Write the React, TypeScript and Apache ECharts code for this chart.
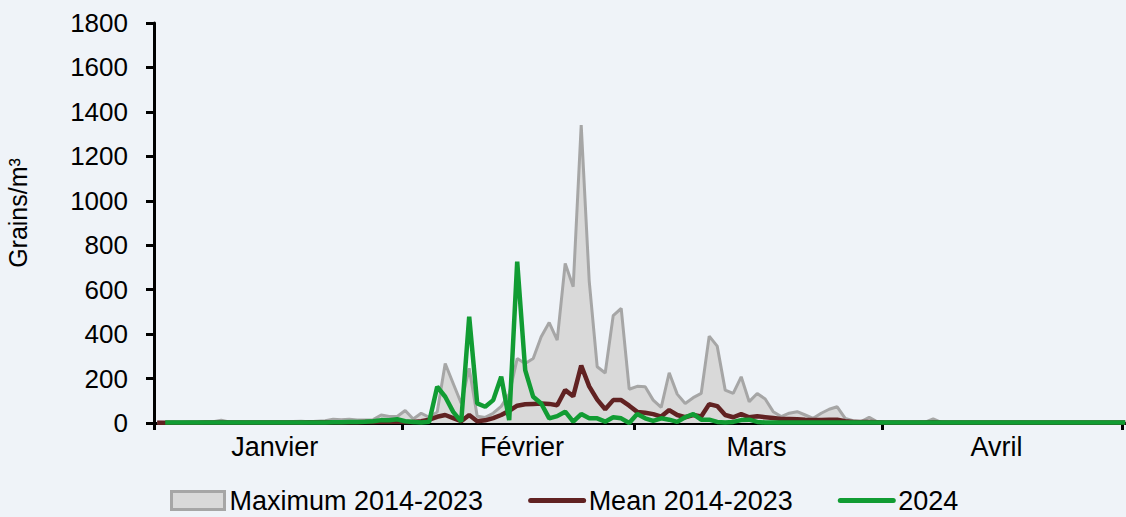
import React, { useEffect, useRef } from "react";
import * as echarts from "echarts";

// Daily values, 1 Jan (index 0) .. 1 May (index 121)
const MAX_2014_2023: number[] = [
  3, 2, 3, 2, 4, 5, 4, 6, 12, 5,
  4, 3, 4, 5, 4, 6, 5, 7, 8, 6,
  8, 10, 17, 15, 17, 14, 13, 15, 36, 29,
  29, 56, 18, 44, 25, 50, 268, 178, 89, 246,
  30, 25, 44, 75, 130, 290, 268, 290, 388, 452,
  373, 718, 613, 1341, 640, 253, 225, 483, 516, 152,
  165, 163, 103, 70, 226, 130, 88, 114, 133, 391,
  346, 148, 133, 208, 96, 133, 108, 51, 29, 44,
  51, 36, 21, 44, 62, 73, 21, 10, 6, 26,
  5, 3, 4, 3, 2, 3, 4, 18, 3, 2,
  3, 2, 3, 2, 2, 3, 2, 2, 3, 2,
  2, 2, 2, 3, 2, 2, 2, 2, 2, 2,
  2, 2,
];

const MEAN_2014_2023: number[] = [
  1, 1, 1, 1, 1, 1, 2, 2, 2, 2,
  2, 2, 2, 2, 2, 2, 2, 2, 2, 3,
  3, 3, 3, 3, 3, 3, 4, 4, 6, 6,
  7, 5, 5, 8, 15, 28, 36, 22, 8, 36,
  8, 12, 22, 36, 55, 78, 84, 86, 88, 86,
  80, 148, 120, 258, 165, 105, 62, 103, 103, 78,
  50, 46, 40, 29, 58, 36, 26, 36, 29, 85,
  76, 36, 26, 40, 26, 30, 26, 22, 18, 18,
  17, 15, 14, 14, 15, 15, 8, 5, 4, 4,
  3, 2, 2, 2, 2, 2, 2, 3, 2, 2,
  2, 2, 2, 2, 2, 2, 2, 2, 2, 2,
  2, 2, 2, 2, 2, 2, 2, 2, 2, 2,
  2, 2,
];

const Y2024: (number | null)[] = [
  null, 2, 2, 2, 2, 2, 2, 2, 2, 2,
  2, 2, 2, 2, 2, 2, 2, 2, 2, 2,
  2, 2, 3, 3, 4, 5, 6, 8, 13, 12,
  17, 8, 5, 2, 6, 163, 118, 50, 6, 478,
  88, 73, 103, 208, 13, 726, 238, 118, 88, 21,
  31, 51, 6, 40, 21, 21, 6, 26, 21, 0,
  40, 21, 10, 21, 15, 5, 26, 40, 15, 15,
  5, 2, 5, 13, 15, 5, 2, 2, 2, 2,
  2, 2, 2, 2, 2, 2, 2, 2, 2, 2,
  2, 2, 2, 2, 2, 2, 2, 2, 2, 2,
  2, 2, 2, 2, 2, 2, 2, 2, 2, 2,
  2, 2, 2, 2, 2, 2, 2, 2, 2, 2,
  2, 2,
];

const MONTHS: string[] = ["Janvier", "Février", "Mars", "Avril"];
const MONTH_BOUNDS: number[] = [0, 31, 60, 91, 121];
const MONTH_LABEL_POS: number[] = [15.1, 46, 75.3, 105.3];

const SERIES_NAMES = ["Maximum 2014-2023", "Mean 2014-2023", "2024"];
const COLORS = { maxLine: "#A6A6A6", maxFill: "#D9D9D9", mean: "#612222", y2024: "#119C33" };

const FONT = "'Liberation Sans', Arial, sans-serif";
const DAY_OFFSET = 0.4;

const toXY = (arr: (number | null)[]) =>
  arr.map((v, i) => [i + DAY_OFFSET, v === null ? "-" : v]);

export default function App() {
  const ref = useRef<HTMLDivElement>(null);

  useEffect(() => {
    if (!ref.current) return;
    const chart = echarts.init(ref.current, undefined, { renderer: "svg" });
    const option: any = {
      animation: false,
      backgroundColor: "#EFF3F8",
      textStyle: { fontFamily: FONT },
      grid: {
        left: 154,
        right: 0,
        top: 23,
        bottom: 94,
        containLabel: false,
        outerBoundsMode: "none",
      },
      xAxis: {
        type: "value",
        min: 0,
        max: 121.5,
        axisLine: { show: true, onZero: false, lineStyle: { color: "#000", width: 3 } },
        axisTick: {
          show: true,
          customValues: MONTH_BOUNDS,
          length: 7,
          lineStyle: { color: "#000", width: 3 },
        },
        axisLabel: {
          customValues: MONTH_LABEL_POS,
          formatter: (v: number) => {
            let best = 0;
            MONTH_LABEL_POS.forEach((p, k) => {
              if (Math.abs(p - v) < Math.abs(MONTH_LABEL_POS[best] - v)) best = k;
            });
            return MONTHS[best];
          },
          fontSize: 27,
          color: "#000",
          fontFamily: FONT,
          margin: 10,
        },
        splitLine: { show: false },
      },
      yAxis: {
        type: "value",
        min: 0,
        max: 1800,
        interval: 200,
        axisLine: { show: true, lineStyle: { color: "#000", width: 3 } },
        axisTick: { show: true, length: 8, lineStyle: { color: "#000", width: 3 } },
        axisLabel: {
          fontSize: 26,
          color: "#000",
          fontFamily: FONT,
          margin: 26,
          formatter: (v: number) => String(v),
        },
        splitLine: { show: false },
      },
      legend: {
        left: 170,
        top: 487,
        padding: 0,
        itemWidth: 53,
        itemHeight: 18,
        itemGap: 45,
        textStyle: { fontSize: 27, color: "#000", fontFamily: FONT },
        data: [
          {
            name: SERIES_NAMES[0],
            icon: "rect",
            itemStyle: { color: COLORS.maxFill, borderColor: COLORS.maxLine, borderWidth: 3 },
          },
          {
            name: SERIES_NAMES[1],
            itemStyle: { opacity: 0 },
            lineStyle: { color: COLORS.mean, width: 5, cap: "round" },
          },
          {
            name: SERIES_NAMES[2],
            itemStyle: { opacity: 0 },
            lineStyle: { color: COLORS.y2024, width: 5, cap: "round" },
          },
        ],
      },
      graphic: [
        {
          type: "text",
          x: 18,
          y: 213,
          rotation: Math.PI / 2,
          style: {
            text: "Grains/m³",
            fontSize: 25,
            fontFamily: FONT,
            fill: "#000",
            align: "center",
            verticalAlign: "middle",
          },
        },
      ],
      series: [
        {
          name: SERIES_NAMES[0],
          type: "line",
          data: toXY(MAX_2014_2023),
          symbol: "none",
          lineStyle: { color: COLORS.maxLine, width: 3 },
          itemStyle: { color: COLORS.maxLine },
          areaStyle: { color: COLORS.maxFill, opacity: 1 },
          z: 1,
        },
        {
          name: SERIES_NAMES[1],
          type: "line",
          data: toXY(MEAN_2014_2023),
          symbol: "none",
          lineStyle: { color: COLORS.mean, width: 4.5 },
          itemStyle: { color: COLORS.mean },
          z: 2,
        },
        {
          name: SERIES_NAMES[2],
          type: "line",
          data: toXY(Y2024),
          symbol: "none",
          lineStyle: { color: COLORS.y2024, width: 4.5 },
          itemStyle: { color: COLORS.y2024 },
          z: 3,
        },
      ],
    };
    chart.setOption(option);
    return () => chart.dispose();
  }, []);

  return (
    <div
      ref={ref}
      style={{ position: "fixed", left: 0, top: 0, width: 1126, height: 517 }}
    />
  );
}
